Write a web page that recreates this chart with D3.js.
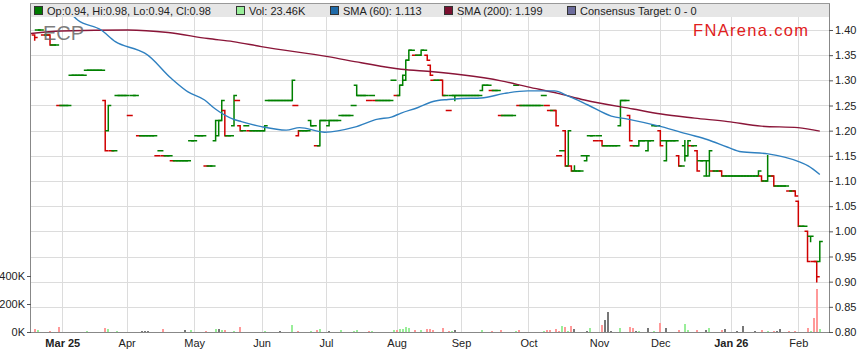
<!DOCTYPE html>
<html>
<head>
<meta charset="utf-8">
<script src="https://cdn.jsdelivr.net/npm/d3@7"></script>
<style>
  body { margin: 0; background: #fff; }
  svg { display: block; font-family: "Liberation Sans", Arial, sans-serif; }
</style>
</head>
<body>
<div id="chart"></div>
<script>
// ---- data ----
const firstDay = "2025-02-18";
const lastDay = "2026-02-11";
const monthLabels = ["Mar 25", "Apr", "May", "Jun", "Jul", "Aug", "Sep", "Oct", "Nov", "Dec", "Jan 26", "Feb"];
const priceTicks = [0.80, 0.85, 0.90, 0.95, 1.00, 1.05, 1.10, 1.15, 1.20, 1.25, 1.30, 1.35, 1.40];
const volumeTicks = [0, 200, 400];

// one entry per weekday: a number = flat day (O=H=L=C), else [open, high, low, close]
const ohlc = [
  // Feb 25
  [1.39,1.39,1.38,1.385], 1.40, 1.40, 1.39, 1.39, [1.39,1.39,1.37,1.37], 1.37, 1.37, 1.25,
  // Mar
  1.25, 1.25, 1.25, 1.31, 1.31, 1.31, 1.31, 1.31, 1.32, 1.32, 1.32, 1.32, 1.32, 1.32,
  [1.26,1.26,1.16,1.16], [1.20,1.25,1.20,1.25], 1.16, 1.16, 1.27, 1.27, 1.27,
  // Apr
  1.27, 1.23, 1.27, 1.27, 1.19, 1.19, 1.19, 1.19, 1.19, 1.19, 1.15, 1.16, 1.15, 1.15, 1.15,
  1.14, 1.14, 1.14, 1.14, 1.14, 1.14, 1.18,
  // May
  1.18, 1.19, 1.19, 1.19, 1.13, 1.13, 1.13, [1.18,1.22,1.18,1.22], [1.19,1.22,1.19,1.22],
  [1.22,1.26,1.22,1.26], [1.24,1.24,1.19,1.19], 1.19, 1.19, [1.21,1.27,1.21,1.27], 1.26,
  [1.21,1.21,1.20,1.20], 1.20, 1.21, 1.20, 1.20, 1.20, 1.20,
  // Jun
  1.20, [1.20,1.21,1.20,1.21], 1.26, 1.26, 1.26, 1.26, 1.26, 1.26, 1.26, 1.26,
  [1.26,1.30,1.26,1.30], 1.25, [1.19,1.20,1.19,1.20], 1.20, 1.20, 1.20,
  [1.22,1.22,1.21,1.21], 1.21, 1.17, [1.17,1.22,1.17,1.22], 1.22,
  // Jul
  1.22, [1.21,1.22,1.21,1.22], 1.22, 1.22, 1.22, 1.23, 1.23, 1.23, 1.23, 1.25,
  [1.29,1.29,1.27,1.27], 1.27, 1.27, 1.27, 1.26, 1.27, 1.26, 1.26, 1.26, 1.26, 1.26, 1.26, 1.30,
  // Aug
  1.27, [1.27,1.29,1.27,1.29], [1.29,1.31,1.29,1.31], [1.30,1.34,1.30,1.34], [1.34,1.36,1.34,1.36],
  1.36, 1.35, 1.35, [1.35,1.36,1.35,1.36], 1.36, [1.35,1.35,1.34,1.34], [1.33,1.33,1.31,1.31],
  1.30, 1.30, 1.30, [1.30,1.30,1.27,1.27], 1.27, 1.24, 1.27, [1.27,1.27,1.26,1.27], 1.27,
  // Sep
  1.27, 1.27, 1.27, 1.27, 1.27, 1.27, 1.27, [1.28,1.29,1.28,1.29], 1.29, 1.29,
  1.28, 1.28, 1.28, 1.23, 1.23, 1.23, 1.23, 1.23, 1.29, 1.25, 1.25, 1.25,
  // Oct
  1.25, 1.25, 1.25, 1.25, 1.25, 1.27, 1.25, 1.24, 1.24, [1.24,1.24,1.21,1.21], 1.15, 1.16,
  [1.20,1.20,1.13,1.13], [1.13,1.20,1.13,1.20], [1.13,1.13,1.12,1.12], [1.12,1.13,1.12,1.12],
  1.12, 1.12, 1.15, [1.14,1.15,1.14,1.15], 1.19, 1.19, 1.18,
  // Nov
  1.19, [1.18,1.18,1.17,1.17], 1.17, 1.17, 1.17, 1.17, 1.17, [1.21,1.26,1.21,1.26], 1.26, 1.26,
  [1.23,1.23,1.18,1.18], 1.17, 1.17, [1.17,1.18,1.17,1.18], 1.18, 1.18, [1.16,1.18,1.16,1.18],
  1.18, 1.21, 1.21,
  // Dec
  [1.20,1.20,1.17,1.17], 1.18, [1.14,1.18,1.14,1.18], 1.18, 1.18, 1.18, [1.15,1.15,1.13,1.13],
  1.13, [1.17,1.18,1.14,1.15], [1.15,1.18,1.15,1.18], 1.17, 1.17, [1.16,1.16,1.12,1.12],
  1.14, 1.14, [1.11,1.14,1.11,1.14], [1.11,1.16,1.11,1.16], 1.12, 1.12, 1.12,
  [1.12,1.12,1.11,1.11], 1.11, 1.11,
  // Jan 26
  1.11, 1.11, 1.11, 1.11, 1.11, 1.11, 1.11, 1.11, 1.11, [1.11,1.12,1.11,1.12],
  [1.11,1.11,1.10,1.10], 1.10, [1.10,1.15,1.10,1.11], 1.11, [1.11,1.11,1.09,1.09],
  1.09, 1.09, 1.09, 1.09, 1.08, 1.08, [1.08,1.08,1.07,1.07],
  // Feb
  [1.06,1.06,1.01,1.01], 1.01, 1.01, [1.00,1.00,0.94,0.94], [0.99,0.99,0.98,0.99], 0.94,
  [0.94,0.94,0.90,0.91], [0.94,0.98,0.94,0.98]
];

// [weekday index, volume in K]
const volume = [
  [0,24],[1,12],[5,9],[8,38],[17,9],[23,31],[24,19],[27,9],[35,5],[36,5],[37,5],[42,19],
  [49,16],[51,16],[56,9],[59,24],[60,24],[61,16],[62,16],[65,9],[67,38],[75,9],[80,9],
  [84,52],[86,9],[90,9],[92,16],[93,19],[96,9],[100,12],[104,9],[105,16],[109,9],[110,9],
  [117,16],[118,12],[119,19],[120,24],[121,38],[122,28],[124,12],[126,16],[128,19],[129,24],
  [130,12],[133,31],[135,9],[136,9],[137,12],[146,16],[149,9],[152,12],[157,9],[158,12],
  [166,9],[167,12],[168,16],[170,24],[171,9],[172,45],[173,35],[174,5],[175,42],[176,21],
  [180,5],[181,28],[185,52],[186,87],[187,144],[188,5],[191,28],[194,35],[195,28],[196,5],
  [197,5],[200,28],[202,5],[204,66],[206,28],[210,16],[212,59],[213,16],[216,16],[219,16],
  [220,31],[224,16],[225,24],[229,9],[231,42],[235,5],[237,16],[239,5],[241,5],[242,5],
  [243,21],[246,5],[248,5],[252,31],[253,5],[254,102],[255,307],[256,23.46]
];

// [weekday index, value]
const sma60 = [
  [8,1.46],[14,1.42],[21.7,1.40],[26.3,1.377],[33.7,1.36],[35.9,1.354],[44.5,1.304],[50,1.277],
  [55.4,1.261],[58.7,1.244],[64.7,1.223],[67.4,1.218],[73.9,1.208],[82,1.201],[86.4,1.206],
  [94.6,1.197],[104.3,1.207],[111.9,1.223],[116.3,1.227],[119.5,1.235],[125,1.246],
  [129.9,1.258],[134.8,1.262],[139.1,1.264],[145.6,1.265],[153.2,1.274],[160.8,1.279],
  [169.5,1.279],[173.9,1.269],[180.4,1.251],[188,1.229],[193.4,1.223],[204.3,1.208],
  [213,1.193],[219.5,1.182],[226,1.167],[230.4,1.158],[239.1,1.154],[248.9,1.139],
  [252.2,1.130],[256,1.113]
];
const sma200 = [
  [-1.2,1.393],[8.7,1.398],[30.4,1.400],[43.5,1.395],[56.5,1.383],[64.7,1.377],[73.9,1.367],
  [95.6,1.347],[106.5,1.335],[119.5,1.322],[129.9,1.317],[139.1,1.311],[152.1,1.299],
  [160.8,1.287],[170.6,1.274],[179.3,1.261],[195.1,1.243],[204.3,1.233],[215.2,1.225],
  [226,1.218],[236.9,1.209],[248.9,1.206],[256,1.199]
];

// ---- layout ----
const W = 859, H = 363;
const plotL = 31, plotR = 829, plotT = 3, legendB = 17, plotB = 332;
const green = "#008000", red = "#d00000";

const days = d3.utcDays(new Date(firstDay), d3.utcDay.offset(new Date(lastDay), 1))
  .filter(d => d.getUTCDay() % 6 !== 0);

const bars = ohlc.map((b, i) => {
  const [o, h, l, c] = Array.isArray(b) ? b : [b, b, b, b];
  return {i, date: days[i], o, h, l, c};
});
bars.forEach((b, i) => {
  const prev = i ? bars[i - 1].c : b.o;
  b.dir = b.c > prev ? 1 : b.c < prev ? -1 : 0;
});

const monthIdx = days.map((d, i) => i)
  .filter(i => i > 0 && days[i].getUTCMonth() !== days[i - 1].getUTCMonth());

const x = d3.scaleLinear().domain([-1.2, 259]).range([plotL, plotR]);
const y = d3.scaleLinear().domain([0.80, 1.40]).range([plotB, 30]);
const yVol = d3.scaleLinear().domain([0, 400]).range([plotB, 276]);

const svg = d3.select("#chart").append("svg")
  .attr("width", W).attr("height", H);

svg.append("defs").append("clipPath").attr("id", "plot")
  .append("rect").attr("x", plotL).attr("y", legendB)
  .attr("width", plotR - plotL).attr("height", plotB - legendB);

// grid
const grid = svg.append("g").attr("stroke", "#dcdcdc").attr("stroke-width", 1)
  .attr("shape-rendering", "crispEdges");
grid.selectAll("line.h").data(priceTicks.slice(1)).join("line")
  .attr("x1", plotL).attr("x2", plotR)
  .attr("y1", d => Math.round(y(d)) + 0.5).attr("y2", d => Math.round(y(d)) + 0.5);
grid.selectAll("line.v").data(monthIdx).join("line")
  .attr("y1", legendB).attr("y2", plotB)
  .attr("x1", d => Math.round(x(d)) + 0.5).attr("x2", d => Math.round(x(d)) + 0.5);

// volume bars
const volColor = {1: "#99ee99", "-1": "#ff9999", 0: "#777777"};
svg.append("g").attr("shape-rendering", "crispEdges")
  .selectAll("rect").data(volume).join("rect")
  .attr("x", d => x(d[0]) - 1)
  .attr("width", 2)
  .attr("y", d => yVol(d[1]))
  .attr("height", d => plotB - yVol(d[1]))
  .attr("fill", d => volColor[bars[d[0]].dir]);

// price bars
const plot = svg.append("g").attr("clip-path", "url(#plot)");
plot.append("g").attr("fill", "none").attr("stroke-width", 1.5)
  .selectAll("path").data(bars).join("path")
  .attr("stroke", d => d.dir < 0 ? red : green)
  .attr("d", d => {
    const cx = x(d.i);
    return `M${cx},${y(d.h) - 0.75}V${y(d.l) + 0.75}` +
      `M${cx - 3},${y(d.o)}H${cx}M${cx},${y(d.c)}H${cx + 3}`;
  });

// moving averages
const line = d3.line().x(d => x(d[0])).y(d => y(d[1])).curve(d3.curveMonotoneX);
plot.append("path").datum(sma200).attr("d", line)
  .attr("fill", "none").attr("stroke", "#8a1538").attr("stroke-width", 1.4);
plot.append("path").datum(sma60).attr("d", line)
  .attr("fill", "none").attr("stroke", "#2f80c0").attr("stroke-width", 1.4);

// axes
const axisColor = "#888";
const xAxis = svg.append("g")
  .attr("transform", `translate(0,${plotB})`)
  .call(d3.axisBottom(x).tickValues(monthIdx).tickFormat((d, k) => monthLabels[k])
    .tickSize(0).tickPadding(7));
xAxis.select(".domain").attr("stroke", axisColor).attr("d", `M${plotL},0.5H${plotR}`);
xAxis.selectAll("text").attr("font-size", 11).attr("fill", "#222")
  .attr("font-family", "Liberation Sans, Arial, sans-serif")
  .attr("font-weight", (d, k) => monthLabels[k].includes(" ") ? "bold" : null);

const yAxis = svg.append("g")
  .attr("transform", `translate(${plotR},0)`)
  .call(d3.axisRight(y).tickValues(priceTicks).tickFormat(d3.format(".2f"))
    .tickSize(4).tickPadding(2));
yAxis.select(".domain").attr("stroke", axisColor).attr("d", `M0.5,${plotT}V${plotB}`);
yAxis.selectAll(".tick line").attr("stroke", "#555");
yAxis.selectAll("text").attr("font-size", 11).attr("fill", "#222")
  .attr("font-family", "Liberation Sans, Arial, sans-serif");

const vAxis = svg.append("g")
  .attr("transform", `translate(${plotL},0)`)
  .call(d3.axisLeft(yVol).tickValues(volumeTicks).tickFormat(d => d + "K")
    .tickSize(4).tickPadding(2));
vAxis.select(".domain").attr("stroke", axisColor).attr("d", `M-0.5,${plotT}V${plotB}`);
vAxis.selectAll(".tick line").attr("stroke", "#555");
vAxis.selectAll("text").attr("font-size", 11).attr("fill", "#222")
  .attr("font-family", "Liberation Sans, Arial, sans-serif");

// legend bar
const last = bars[bars.length - 1];
const f2 = d3.format(".2f"), f3 = d3.format(".3f");
const legendItems = [
  {x: 34, color: "#007a00", text: `Op:${f2(last.o)}, Hi:${f2(last.h)}, Lo:${f2(last.l)}, Cl:${f2(last.c)}`},
  {x: 236, color: "#99ee99", text: `Vol: ${volume[volume.length - 1][1]}K`},
  {x: 330, color: "#1f6aa8", text: `SMA (60): ${f3(sma60[sma60.length - 1][1])}`},
  {x: 444, color: "#7a1030", text: `SMA (200): ${f3(sma200[sma200.length - 1][1])}`},
  {x: 567, color: "#6c6c9c", text: "Consensus Target: 0 - 0"}
];
svg.append("rect").attr("x", plotL).attr("y", plotT)
  .attr("width", plotR - plotL).attr("height", legendB - plotT)
  .attr("fill", "#e6e6e6");
svg.append("line").attr("x1", plotL - 1).attr("x2", plotR + 1)
  .attr("y1", plotT + 0.5).attr("y2", plotT + 0.5)
  .attr("stroke", "#999").attr("shape-rendering", "crispEdges");
const lg = svg.append("g").selectAll("g").data(legendItems).join("g")
  .attr("transform", d => `translate(${d.x},0)`);
lg.append("rect").attr("x", 0.5).attr("y", 6.5).attr("width", 8).attr("height", 8)
  .attr("fill", d => d.color).attr("stroke", "#333").attr("stroke-width", 1);
lg.append("text").attr("x", 13).attr("y", 14.5)
  .attr("font-size", 11).attr("fill", "#222").text(d => d.text);

// watermark and code
svg.append("text").attr("x", 43).attr("y", 39.5)
  .attr("font-size", 20).attr("fill", "#666").attr("fill-opacity", 0.85)
  .text("ECP");
svg.append("text").attr("x", 693).attr("y", 36)
  .attr("font-size", 16.5).attr("fill", "#e0201c")
  .attr("textLength", 115).attr("lengthAdjust", "spacing")
  .text("FNArena.com");
</script>
</body>
</html>
